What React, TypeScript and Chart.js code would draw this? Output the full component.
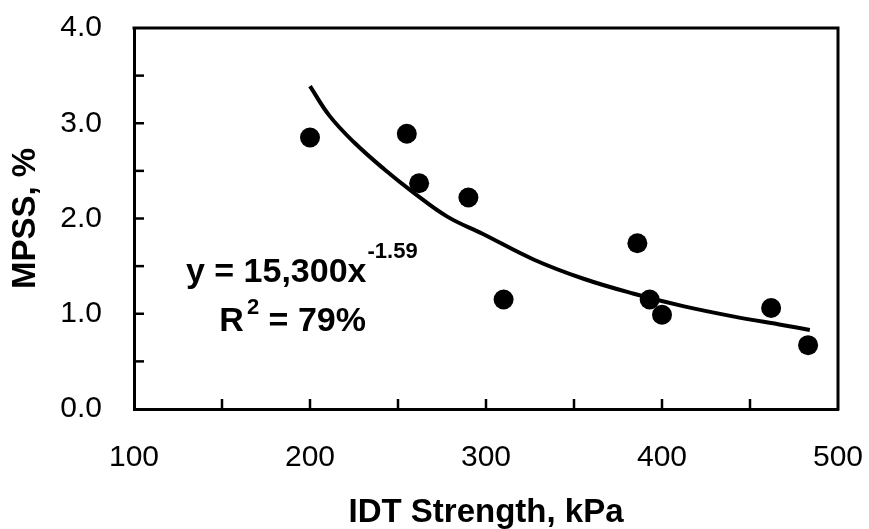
import React, { useEffect, useRef } from "react";
import { Chart, registerables } from "chart.js";

Chart.register(...registerables);

// Measured data points (IDT strength in kPa, MPSS in %)
const idtStrength = [200, 255, 262, 290, 310, 386, 393, 400, 462, 483];
const mpss = [2.85, 2.89, 2.37, 2.22, 1.15, 1.74, 1.15, 0.99, 1.06, 0.67];

// Power trend line
const trendX = [200, 211, 225, 242, 259, 278, 298, 327, 355, 384, 412, 441, 469, 484];
const trendY = [3.39, 3.08, 2.8, 2.52, 2.27, 2.02, 1.84, 1.57, 1.37, 1.21, 1.08, 0.97, 0.88, 0.83];

// Axis settings
const xRange = [100, 500];
const yRange = [0, 4];
const xStep = 50;
const yStep = 0.5;
const xTitle = "IDT Strength, kPa";
const yTitle = "MPSS, %";

// Annotation text
const eqMain = "y = 15,300x";
const eqExp = "-1.59";
const r2Main = "R";
const r2Exp = "2";
const r2Rest = " = 79%";
// anchors in data units (left / baseline)
const eqAnchor = [129.5, 1.33];
const r2Anchor = [148.5, 0.82];

const FONT = "'Liberation Sans', Arial, Helvetica, sans-serif";

const framePlugin = {
  id: "frameAndNotes",
  afterDraw(chart: any) {
    const { ctx, chartArea } = chart;
    const { left, right, top, bottom } = chartArea;
    const xs = chart.scales.x;
    const ys = chart.scales.y;
    ctx.save();
    ctx.strokeStyle = "#000";
    ctx.lineCap = "butt";
    // top and right frame
    ctx.lineWidth = 3;
    ctx.beginPath();
    ctx.moveTo(left - 1.5, top);
    ctx.lineTo(right, top);
    ctx.lineTo(right, bottom + 1.5);
    ctx.stroke();
    // inner tick marks
    ctx.lineWidth = 2.5;
    xs.ticks.forEach((t: any) => {
      if (t.value <= xs.min || t.value >= xs.max) return;
      const px = xs.getPixelForValue(t.value);
      ctx.beginPath();
      ctx.moveTo(px, bottom);
      ctx.lineTo(px, bottom - 10);
      ctx.stroke();
    });
    ys.ticks.forEach((t: any) => {
      if (t.value <= ys.min || t.value >= ys.max) return;
      const py = ys.getPixelForValue(t.value);
      ctx.beginPath();
      ctx.moveTo(left, py);
      ctx.lineTo(left + 10, py);
      ctx.stroke();
    });
    // annotation
    ctx.fillStyle = "#000";
    ctx.textBaseline = "alphabetic";
    ctx.textAlign = "left";
    const mainFont = `bold 34px ${FONT}`;
    const supFont = `bold 22px ${FONT}`;
    let ax = xs.getPixelForValue(eqAnchor[0]);
    let ay = ys.getPixelForValue(eqAnchor[1]);
    ctx.font = mainFont;
    ctx.fillText(eqMain, ax, ay);
    ax += ctx.measureText(eqMain).width + 1;
    ctx.font = supFont;
    ctx.fillText(eqExp, ax, ay - 24);

    ax = xs.getPixelForValue(r2Anchor[0]);
    ay = ys.getPixelForValue(r2Anchor[1]);
    ctx.font = mainFont;
    ctx.fillText(r2Main, ax, ay);
    ax += ctx.measureText(r2Main).width + 3;
    ctx.font = supFont;
    ctx.fillText(r2Exp, ax, ay - 17);
    ax += ctx.measureText(r2Exp).width;
    ctx.font = mainFont;
    ctx.fillText(r2Rest, ax, ay);
    ctx.restore();
  },
};

export default function App() {
  const ref = useRef<HTMLCanvasElement | null>(null);

  useEffect(() => {
    if (!ref.current) return;
    const points = idtStrength.map((x, i) => ({ x, y: mpss[i] }));
    const trend = trendX.map((x, i) => ({ x, y: trendY[i] }));
    const chart = new Chart(ref.current, {
      type: "scatter",
      data: {
        datasets: [
          {
            label: "Data",
            data: points,
            pointRadius: 10,
            pointHoverRadius: 10,
            pointBackgroundColor: "#000",
            pointBorderColor: "#000",
            pointBorderWidth: 0,
            showLine: false,
          },
          {
            label: "Power trend",
            data: trend,
            showLine: true,
            borderColor: "#000",
            borderWidth: 4,
            pointRadius: 0,
            tension: 0.4,
            fill: false,
          } as any,
        ],
      },
      options: {
        animation: false,
        responsive: false,
        events: [],
        layout: { padding: { top: 28, right: 31, left: 0, bottom: 0 } },
        plugins: {
          legend: { display: false },
          tooltip: { enabled: false },
        },
        scales: {
          x: {
            type: "linear",
            min: xRange[0],
            max: xRange[1],
            afterFit: (s: any) => {
              s.height = 120;
              s.paddingLeft = 0;
              s.paddingRight = 0;
            },
            grid: { display: false, drawTicks: false },
            border: { display: true, color: "#000", width: 3 },
            ticks: {
              stepSize: xStep,
              autoSkip: false,
              maxRotation: 0,
              padding: 31,
              color: "#000",
              font: { family: FONT, size: 30 },
              callback: (v: any) => (Number(v) % 100 === 0 ? String(v) : ""),
            },
            title: {
              display: true,
              text: xTitle,
              color: "#000",
              font: { family: FONT, size: 33, weight: "bold", lineHeight: 1 },
              padding: { top: 0, bottom: 0 },
            },
          },
          y: {
            type: "linear",
            min: yRange[0],
            max: yRange[1],
            afterFit: (s: any) => {
              s.width = 134;
              s.paddingTop = 0;
              s.paddingBottom = 0;
            },
            grid: { display: false, drawTicks: false },
            border: { display: true, color: "#000", width: 3 },
            ticks: {
              stepSize: yStep,
              autoSkip: false,
              padding: 32,
              color: "#000",
              font: { family: FONT, size: 30 },
              callback: (v: any) => (Number.isInteger(Number(v)) ? Number(v).toFixed(1) : ""),
            },
            title: {
              display: true,
              text: yTitle,
              color: "#000",
              font: { family: FONT, size: 33, weight: "bold", lineHeight: 1 },
              padding: { top: 9, bottom: 0 },
            },
          },
        },
      },
      plugins: [framePlugin],
    });
    return () => chart.destroy();
  }, []);

  return (
    <div style={{ position: "absolute", left: 0, top: 0, width: 869, height: 529, background: "#fff" }}>
      <canvas ref={ref} width={869} height={529} style={{ display: "block", width: 869, height: 529 }} />
    </div>
  );
}
